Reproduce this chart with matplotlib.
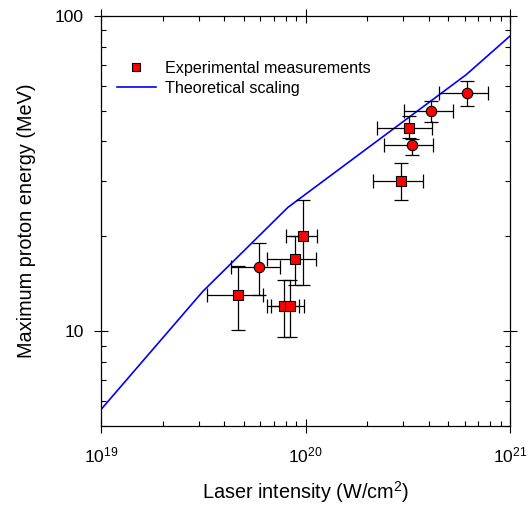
import matplotlib
matplotlib.use("Agg")
import matplotlib.pyplot as plt
import numpy as np

plt.rcParams['font.family'] = ['Liberation Sans', 'DejaVu Sans']
plt.rcParams['mathtext.fontset'] = 'custom'
plt.rcParams['mathtext.rm'] = 'Liberation Sans'
plt.rcParams['mathtext.it'] = 'Liberation Sans:italic'

# experimental points, squares (intensity W/cm2, energy MeV, error limits)
sq_x = [7.82e19, 8.37e19, 4.69e19, 8.85e19, 9.69e19, 2.94e20, 3.20e20]
sq_x_lo = [6.46e19, 6.78e19, 3.29e19, 6.46e19, 8.0e19, 2.14e20, 2.23e20]
sq_x_hi = [9.33e19, 9.84e19, 6.18e19, 1.125e20, 1.14e20, 3.74e20, 4.14e20]
sq_y = [12.06, 12.06, 13.0, 17.0, 20.0, 30.0, 44.1]
sq_y_lo = [9.57, 9.57, 10.07, 14.0, 14.0, 26.0, 41.0]
sq_y_hi = [14.53, 14.53, 16.07, 20.0, 26.0, 34.1, 48.2]

# experimental points, circles
ci_x = [5.90e19, 3.30e20, 4.12e20, 6.14e20]
ci_x_lo = [4.31e19, 2.41e20, 3.04e20, 4.50e20]
ci_x_hi = [7.50e19, 4.22e20, 5.25e20, 7.84e20]
ci_y = [16.0, 39.0, 50.1, 57.1]
ci_y_lo = [13.0, 36.1, 46.1, 52.0]
ci_y_hi = [19.0, 40.7, 53.9, 62.0]

# theoretical scaling curve
th_x = [1e19, 3.15e19, 8.2e19, 6.1e20, 1e21]
th_y = [5.64, 13.38, 24.7, 65.1, 86.4]


def draw_points(ax, x, xlo, xhi, y, ylo, yhi, marker):
    x = np.array(x)
    y = np.array(y)
    xerr = [x - np.array(xlo), np.array(xhi) - x]
    yerr = [y - np.array(ylo), np.array(yhi) - y]
    ax.errorbar(x, y, xerr=xerr, yerr=yerr, fmt='none', ecolor='black',
                elinewidth=0.9, capsize=4.7, capthick=0.9, zorder=2)
    ax.plot(x, y, linestyle='none', marker=marker, markersize=7.5,
            markerfacecolor='red', markeredgecolor='black',
            markeredgewidth=0.8, zorder=3)


fig = plt.figure(figsize=(5.31, 5.08), dpi=100)
ax = fig.add_axes([0.1902, 0.1614, 0.7703, 0.8071])

ax.plot(th_x, th_y, color='#0000ff', linewidth=1.2, zorder=1)
draw_points(ax, sq_x, sq_x_lo, sq_x_hi, sq_y, sq_y_lo, sq_y_hi, 's')
draw_points(ax, ci_x, ci_x_lo, ci_x_hi, ci_y, ci_y_lo, ci_y_hi, 'o')

ax.set_xscale('log')
ax.set_yscale('log')
ax.set_xlim(1e19, 1e21)
ax.set_ylim(5, 100)
ax.set_yticks([10, 100])
ax.set_yticklabels(['10', '100'])
ax.yaxis.set_minor_formatter(matplotlib.ticker.NullFormatter())

ax.tick_params(which='major', direction='inout', length=9.4, width=0.8,
               top=True, right=True, labelsize=12.5)
ax.tick_params(axis='x', which='major', pad=9)
ax.tick_params(axis='y', which='major', pad=7.5)
ax.tick_params(which='minor', direction='in', length=3.6, width=0.8,
               top=True, right=True)
for s in ax.spines.values():
    s.set_linewidth(0.9)

ax.set_xlabel('Laser intensity (W/cm$^2$)', fontsize=14.3, labelpad=10)
ax.set_ylabel('Maximum proton energy (MeV)', fontsize=14.3, labelpad=14)

h_sq = plt.Line2D([], [], linestyle='none', marker='s', markersize=6,
                  markerfacecolor='red', markeredgecolor='black',
                  markeredgewidth=0.8)
h_th = plt.Line2D([], [], color='#0000ff', linewidth=1.2)
ax.legend([h_sq, h_th], ['Experimental measurements', 'Theoretical scaling'],
          loc='upper left', bbox_to_anchor=(0.039, 0.89), frameon=False,
          borderpad=0, borderaxespad=0, handlelength=2.4, handletextpad=0.6,
          labelspacing=0.3, fontsize=11.6)

fig.savefig('out.png', dpi=100)
